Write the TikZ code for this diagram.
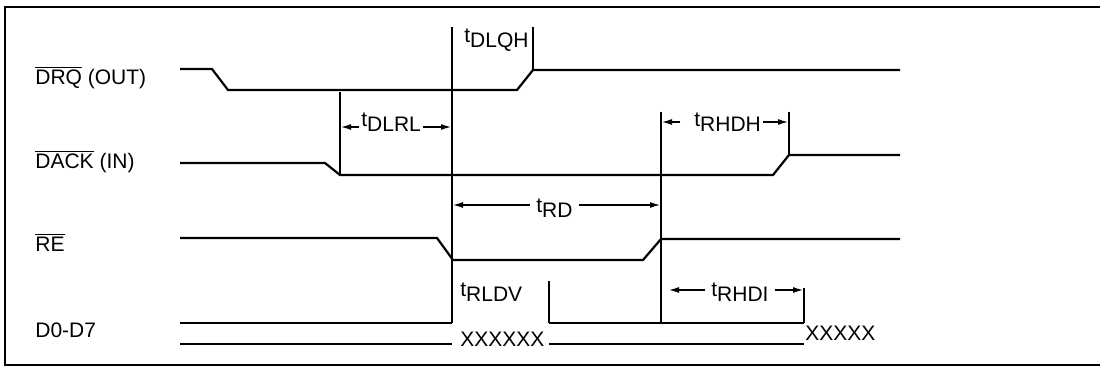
\documentclass[tikz,border=0pt]{standalone}
\usepackage{fontspec}
\setmainfont{Liberation Sans}
\usepackage{tikz}
\usetikzlibrary{positioning,arrows.meta}
\tikzset{>={Latex[length=5pt,width=3pt]}}
\newcommand{\ovl}[1]{$\overline{\hbox{#1}}$}
\newcommand{\tsub}[1]{t\raisebox{-2.5pt}{#1}}

\begin{document}
\begin{tikzpicture}[x=0.5pt, y=-0.5pt]
\tikzset{sig/.style={line width=1.1pt, line join=miter},
         tmark/.style={line width=0.6pt},
         dim/.style={->, line width=0.6pt},
         lbl/.style={font=\fontsize{10.5}{12}\selectfont, inner sep=0pt, anchor=base west}}
    \useasboundingbox (0,0) rectangle (1100,367);
    \draw[line width=1.1pt] (1100,7) -- (5,7) -- (5,365) -- (1100,365);

    % signal names
    \node[lbl] (nDRQ)  at (35,85)  {\ovl{DRQ} (OUT)};
    \node[lbl] (nDACK) at (35,169) {\ovl{DACK} (IN)};
    \node[lbl] (nRE)   at (35,252) {\ovl{RE}};
    \node[lbl] (nD)    at (35,338) {D0-D7};

    % DRQ
    \coordinate (Q0) at (180,69);
    \coordinate (Q1) at (212,69);
    \coordinate (Q2) at (228,90);
    \coordinate (Q3) at (517,90);
    \coordinate (Q4) at (533,70);
    \coordinate (Q5) at (900,70);
    \draw[sig] (Q0) -- (Q1) -- (Q2) -- (Q3) -- (Q4) -- (Q5);

    % DACK
    \coordinate (A0) at (180,163);
    \coordinate (A1) at (325,163);
    \coordinate (A2) at (340,175);
    \coordinate (A3) at (773,175);
    \coordinate (A4) at (789,155);
    \coordinate (A5) at (900,155);
    \draw[sig] (A0) -- (A1) -- (A2) -- (A3) -- (A4) -- (A5);

    % RE
    \coordinate (R0) at (180,238);
    \coordinate (R1) at (437,238);
    \coordinate (R2) at (453,260);
    \coordinate (R3) at (643,260);
    \coordinate (R4) at (661,239);
    \coordinate (R5) at (900,239);
    \draw[sig] (R0) -- (R1) -- (R2) -- (R3) -- (R4) -- (R5);

    % D0-D7
    \coordinate (D0u) at (180,323);
    \coordinate (D0l) at (180,344);
    \coordinate (D1u) at (452,323);
    \coordinate (D1l) at (452,344);
    \coordinate (D2u) at (549,323);
    \coordinate (D2l) at (549,344);
    \coordinate (D3u) at (804,323);
    \coordinate (D3l) at (804,344);
    \draw[sig] (D0u) -- (D1u);
    \draw[sig] (D0l) -- (D1l);
    \draw[sig] (D2u) -- (D3u);
    \draw[sig] (D2l) -- (D3l);
    \node[lbl] (xx1) at (460,347) {XXXXXX};
    \node[lbl] (xx2) at (805,341) {XXXXX};

% % % % % % % % % % % % % % % % % % %
    % timing marks
    \coordinate (V1t) at (452,27);
    \coordinate (V2t) at (533,27);
    \coordinate (V3t) at (340,92);
    \coordinate (V4t) at (661,112);
    \coordinate (V4b) at (661,323);
    \coordinate (V5t) at (789,112);
    \coordinate (V6t) at (549,281);
    \coordinate (V7t) at (804,288);
    \draw[tmark] (V1t) -- (D1u);
    \draw[tmark] (V2t) -- (Q4);
    \draw[tmark] (V3t) -- (A2);
    \draw[tmark] (V4t) -- (V4b);
    \draw[tmark] (V5t) -- (A4);
    \draw[tmark] (V6t) -- (D2u);
    \draw[tmark] (V7t) -- (D3u);

    \node[lbl] (tDLQH) at (464,43)  {\tsub{DLQH}};
    \node[lbl] (tDLRL) at (361,127) {\tsub{DLRL}};
    \node[lbl] (tRHDH) at (694,127) {\tsub{RHDH}};
    \node[lbl] (tRD)   at (536,213) {\tsub{RD}};
    \node[lbl] (tRLDV) at (460,297) {\tsub{RLDV}};
    \node[lbl] (tRHDI) at (711,297) {\tsub{RHDI}};

    \coordinate (dlrlL) at (341,127);
    \coordinate (dlrlR) at (451,127);
    \coordinate (rhdhL) at (662,122);
    \coordinate (rhdhR) at (788,122);
    \coordinate (rdL)   at (453,205);
    \coordinate (rdR)   at (660,205);
    \coordinate (rhdiL) at (669,290);
    \coordinate (rhdiR) at (803,290);

    \draw[dim, shorten <=1pt] (tDLRL.west |- dlrlL) -- (dlrlL);
    \draw[dim, shorten <=1pt] (tDLRL.east |- dlrlR) -- (dlrlR);
    \draw[dim, shorten <=7pt] (tRHDH.west |- rhdhL) -- (rhdhL);
    \draw[dim, shorten <=1pt] (tRHDH.east |- rhdhR) -- (rhdhR);
    \draw[dim, shorten <=3pt] (tRD.west |- rdL) -- (rdL);
    \draw[dim, shorten <=3pt] (tRD.east |- rdR) -- (rdR);
    \draw[dim, shorten <=3pt] (tRHDI.west |- rhdiL) -- (rhdiL);
    \draw[dim, shorten <=3pt] (tRHDI.east |- rhdiR) -- (rhdiR);
\end{tikzpicture}
\end{document}
